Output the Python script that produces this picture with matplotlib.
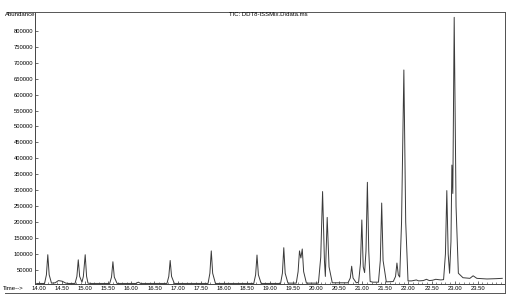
import matplotlib.pyplot as plt
from matplotlib.lines import Line2D
from matplotlib.ticker import MultipleLocator, FixedLocator

plt.rcParams['font.family'] = ['Liberation Sans', 'DejaVu Sans']

# TIC trace: retention time (min) and abundance
retention_time = [
    13.95, 14.12, 14.16, 14.19, 14.22, 14.27, 14.35, 14.42, 14.50, 14.58,
    14.64, 14.78, 14.82, 14.85, 14.88, 14.93, 14.96, 15.00, 15.03, 15.06,
    15.12, 15.53, 15.57, 15.60, 15.63, 15.69, 16.10, 16.15, 16.20, 16.77,
    16.81, 16.84, 16.87, 16.93, 17.66, 17.70, 17.73, 17.76, 17.82, 18.65,
    18.69, 18.72, 18.75, 18.81, 19.23, 19.27, 19.30, 19.33, 19.39, 19.57,
    19.61, 19.64, 19.67, 19.70, 19.73, 19.79, 20.05, 20.10, 20.14, 20.18,
    20.20, 20.24, 20.28, 20.35, 20.69, 20.74, 20.77, 20.80, 20.87, 20.92,
    20.96, 20.99, 21.02, 21.05, 21.08, 21.11, 21.14, 21.17, 21.23, 21.35,
    21.39, 21.42, 21.45, 21.52, 21.67, 21.72, 21.75, 21.78, 21.81, 21.85,
    21.90, 21.94, 21.99, 22.07, 22.17, 22.22, 22.32, 22.39, 22.45, 22.52,
    22.59, 22.70, 22.76, 22.80, 22.83, 22.86, 22.89, 22.92, 22.94, 22.96,
    22.99, 23.03, 23.08, 23.18, 23.33, 23.40, 23.48, 23.70, 23.90, 24.03,
]
abundance = [
    8000, 8000, 35000, 98000, 35000, 9000, 10000, 17000, 15000, 9000,
    8000, 8000, 30000, 82000, 30000, 12000, 30000, 98000, 30000, 9000,
    8000, 8000, 28000, 76000, 28000, 8000, 8000, 12000, 8000, 8000,
    30000, 80000, 30000, 8000, 8000, 40000, 110000, 40000, 8000, 8000,
    35000, 97000, 35000, 8000, 8000, 40000, 120000, 40000, 9000, 9000,
    45000, 110000, 88000, 116000, 45000, 9000, 9000, 90000, 296000, 80000,
    30000, 215000, 60000, 10000, 10000, 25000, 62000, 25000, 10000, 12000,
    70000, 207000, 60000, 42000, 110000, 325000, 110000, 14000, 12000, 12000,
    80000, 260000, 80000, 13000, 14000, 30000, 72000, 35000, 28000, 200000,
    677000, 200000, 16000, 16000, 19000, 16000, 17000, 21000, 17000, 18000,
    21000, 19000, 20000, 100000, 299000, 100000, 40000, 140000, 379000, 290000,
    842000, 250000, 40000, 26000, 24000, 32000, 24000, 22000, 23000, 24000,
]

x_tick_values = [14.0, 14.5, 15.0, 15.5, 16.0, 16.5, 17.0, 17.5, 18.0, 18.5,
                 19.0, 19.5, 20.0, 20.5, 21.0, 21.5, 22.0, 22.5, 23.0, 23.5]
y_tick_values = list(range(50000, 800001, 50000))

W, H = 513, 304
fig = plt.figure(figsize=(W / 100, H / 100), dpi=100)
ax = fig.add_axes([35 / W, 1 - 284 / H, 470 / W, 272 / H])

ax.plot(retention_time, abundance, color="#3a3a3a", lw=0.7)
ax.set_xlim(13.913, 24.09)
ax.set_ylim(6270, 858700)

ax.xaxis.set_major_locator(FixedLocator(x_tick_values))
ax.xaxis.set_minor_locator(MultipleLocator(0.1))
ax.set_xticklabels(["%.2f" % v for v in x_tick_values])
ax.yaxis.set_major_locator(FixedLocator(y_tick_values))
ax.set_yticklabels([str(v) for v in y_tick_values])

ax.tick_params(axis="both", which="major", labelsize=4.2, length=2.0,
               width=0.5, direction="in", pad=1.2, color="#333333")
ax.tick_params(axis="x", which="minor", length=1.2, width=0.4,
               direction="in", color="#333333")
for side in ["left", "bottom", "right"]:
    ax.spines[side].set_linewidth(0.7)
    ax.spines[side].set_color("#444444")
ax.spines["top"].set_visible(False)

# outer frame of the printout
frame = dict(color="#555555", lw=0.7, transform=fig.transFigure)
fig.add_artist(Line2D([7 / W, 505 / W], [1 - 12 / H, 1 - 12 / H], **frame))
fig.add_artist(Line2D([5 / W, 505 / W], [1 - 293 / H, 1 - 293 / H], **frame))
fig.add_artist(Line2D([505 / W, 505 / W], [1 - 12 / H, 1 - 293 / H], **frame))

fig.text(5 / W, 1 - 14.5 / H, "Abundance", fontsize=4.3, va="center", ha="left")
fig.text(268 / W, 1 - 14.5 / H, "TIC: DDT8-ISSMix.D\\data.ms", fontsize=4.3,
         va="center", ha="center")
fig.text(3 / W, 1 - 289 / H, "Time-->", fontsize=4.3, va="center", ha="left")

fig.savefig("out.png", dpi=100, facecolor="white")
